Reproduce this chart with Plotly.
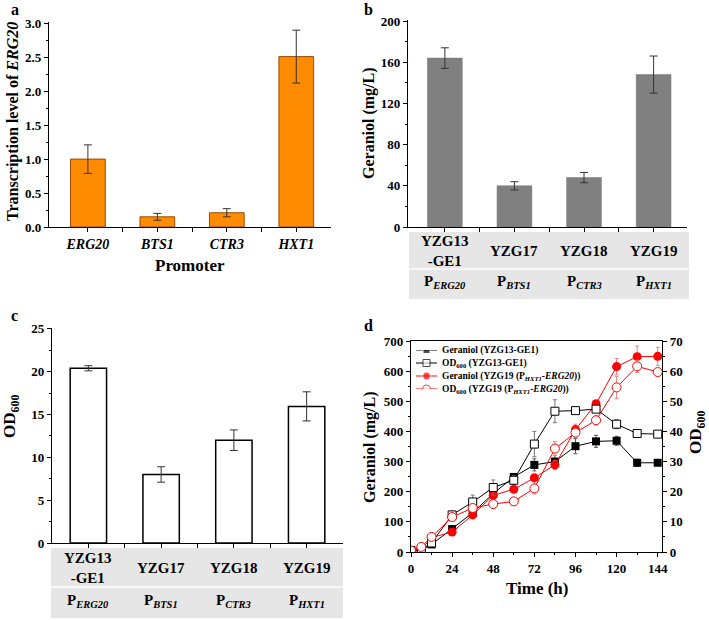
import plotly.graph_objects as go

# panel a - transcription level
promoters = ['ERG20', 'BTS1', 'CTR3', 'HXT1']
trans_level = [1.0, 0.15, 0.21, 2.51]
trans_err = [0.21, 0.05, 0.06, 0.39]

# panel b / c - strains
strains = ['YZG13<br>-GE1', 'YZG17', 'YZG18', 'YZG19']
strain_prom = ['P<sub><i>ERG20</i></sub>', 'P<sub><i>BTS1</i></sub>',
               'P<sub><i>CTR3</i></sub>', 'P<sub><i>HXT1</i></sub>']
geraniol = [164, 40, 48, 148]
geraniol_err = [10, 4, 5, 18]
od600 = [20.4, 8.0, 12.0, 15.95]
od600_err = [0.3, 0.9, 1.2, 1.7]

# panel d - time course
time = [0, 6, 12, 24, 36, 48, 60, 72, 84, 96, 108, 120, 132, 144]
ger13 = [3, 5, 25, 76, 130, 194, 249, 289, 300, 351, 367, 369, 296, 296]
ger13_err = [1, 2, 4, 8, 10, 10, 10, 20, 20, 25, 20, 15, 12, 5]
od13 = [0.5, 0.8, 3.0, 12.3, 16.6, 21.4, 23.8, 35.8, 46.7, 46.9, 47.4, 42.4, 39.3, 39.1]
od13_err = [0.2, 0.3, 0.5, 1.3, 2.3, 2.5, 1.5, 4.2, 3.8, 0.6, 0.8, 1.5, 1.2, 0.5]
ger19 = [3, 8, 48, 66, 123, 188, 208, 246, 289, 406, 492, 615, 648, 649]
ger19_err = [1, 2, 3, 6, 8, 10, 10, 10, 15, 18, 10, 27, 35, 30]
od19 = [0.5, 1.7, 5.0, 11.6, 14.6, 15.9, 16.8, 21.1, 34.3, 39.6, 43.7, 54.6, 61.6, 59.7]
od19_err = [0.2, 0.3, 0.4, 1.0, 1.0, 0.8, 0.8, 1.8, 2.3, 1.5, 1.5, 3.7, 2.0, 0.8]

legend_names = ['Geraniol (YZG13-GE1)',
                'OD<sub>600</sub> (YZG13-GE1)',
                'Geraniol (YZG19 (P<sub><i>HXT1</i></sub>-<i>ERG20</i>))',
                'OD<sub>600</sub> (YZG19 (P<sub><i>HXT1</i></sub>-<i>ERG20</i>))']

W, H = 709, 620
FONT = 'Liberation Serif, Times New Roman, serif'
pos = list(range(len(promoters)))


def px(v):
    return v / W


def py(v):
    return 1 - v / H


fig = go.Figure()

fig.add_trace(go.Bar(x=pos, y=trans_level, width=0.5, xaxis='x', yaxis='y',
                     marker=dict(color='#FF8C00', line=dict(color='#9C4A00', width=1)),
                     error_y=dict(type='data', array=trans_err, color='#333333', thickness=1, width=4),
                     showlegend=False))
fig.add_trace(go.Bar(x=pos, y=geraniol, width=0.5, xaxis='x2', yaxis='y2',
                     marker=dict(color='#808080', line=dict(color='#707070', width=0.5)),
                     error_y=dict(type='data', array=geraniol_err, color='#333333', thickness=1, width=4),
                     showlegend=False))
fig.add_trace(go.Bar(x=pos, y=od600, width=0.5, xaxis='x3', yaxis='y3',
                     marker=dict(color='white', line=dict(color='black', width=1.5)),
                     error_y=dict(type='data', array=od600_err, color='#333333', thickness=1, width=4),
                     showlegend=False))

red = '#FF0000'
styles = [
    dict(line=dict(color='black', width=1), marker=dict(symbol='square', size=8, color='black')),
    dict(line=dict(color='black', width=1),
         marker=dict(symbol='square', size=8, color='white', line=dict(color='black', width=1))),
    dict(line=dict(color=red, width=1), marker=dict(symbol='circle', size=9, color=red)),
    dict(line=dict(color=red, width=1),
         marker=dict(symbol='circle', size=9, color='white', line=dict(color=red, width=1))),
]
series = [(ger13, ger13_err, 'y4', '#555555'), (od13, od13_err, 'y5', '#777777'),
          (ger19, ger19_err, 'y4', '#F08080'), (od19, od19_err, 'y5', '#F08080')]
for (vals, errs, yax, ecol), st, name in zip(series, styles, legend_names):
    fig.add_trace(go.Scatter(x=time, y=vals, xaxis='x4', yaxis=yax, mode='lines+markers',
                             name=name, showlegend=False, **st,
                             error_y=dict(type='data', array=errs, color=ecol, thickness=1, width=2)))

# legend for panel d, drawn on a hidden helper axis
leg_rows = [3, 2, 1, 0]
for row, st in zip(leg_rows, styles):
    fig.add_trace(go.Scatter(x=[0, 0.5, 1], y=[row] * 3, xaxis='x5', yaxis='y6',
                             mode='lines+markers', showlegend=False, hoverinfo='skip',
                             line=st['line'],
                             marker=dict(st['marker'], size=[0, st['marker']['size'] - 1, 0])))

axis_common = dict(showline=True, linecolor='black', linewidth=1.2, ticks='outside',
                   tickcolor='black', ticklen=4, showgrid=False, zeroline=False, automargin=False,
                   tickfont=dict(size=13, family=FONT, color='black', weight='bold'))
cat_ticks = [0, 0.5, 1, 1.5, 2, 2.5, 3]
cat_text = []
for p in promoters:
    cat_text += ['<i>%s</i>' % p, '']

fig.update_layout(
    width=W, height=H, margin=dict(l=0, r=0, t=0, b=0),
    paper_bgcolor='white', plot_bgcolor='white',
    font=dict(family=FONT, color='black', weight='bold'),
    showlegend=False,
    xaxis=dict(axis_common, domain=[px(49), px(331)], range=[-0.56, 3.5], anchor='y',
               tickvals=cat_ticks, ticktext=cat_text[:7],
               tickfont=dict(size=14, family=FONT, color='black', weight='bold')),
    yaxis=dict(axis_common, domain=[py(227), py(22)], range=[0, 3.02], anchor='x',
               dtick=0.5, tickformat='.1f',
               minor=dict(ticks='outside', ticklen=2, dtick=0.25, tickcolor='black')),
    xaxis2=dict(axis_common, domain=[px(408), px(687)], range=[-0.53, 3.48], anchor='y2',
                tickvals=cat_ticks, showticklabels=False),
    yaxis2=dict(axis_common, domain=[py(227), py(20)], range=[0, 201], anchor='x2',
                dtick=40, minor=dict(ticks='outside', ticklen=2, dtick=20, tickcolor='black')),
    xaxis3=dict(axis_common, domain=[px(52), px(343)], range=[-0.5, 3.5], anchor='y3',
                tickvals=cat_ticks, showticklabels=False),
    yaxis3=dict(axis_common, domain=[py(543), py(328)], range=[0, 25.1], anchor='x3',
                dtick=5, minor=dict(ticks='outside', ticklen=2, dtick=2.5, tickcolor='black')),
    xaxis4=dict(axis_common, domain=[px(411), px(662)], range=[0, 146.5], anchor='y4',
                dtick=24, mirror=True,
                minor=dict(ticks='outside', ticklen=2, dtick=12, tickcolor='black')),
    yaxis4=dict(axis_common, domain=[py(552), py(341)], range=[0, 700], anchor='x4',
                dtick=100, minor=dict(ticks='outside', ticklen=2, dtick=50, tickcolor='black')),
    yaxis5=dict(axis_common, domain=[py(552), py(341)], range=[0, 70], anchor='x4',
                overlaying='y4', side='right', dtick=10,
                minor=dict(ticks='outside', ticklen=2, dtick=5, tickcolor='black')),
    xaxis5=dict(domain=[px(416), px(437)], range=[0, 1], visible=False, anchor='y6'),
    yaxis6=dict(domain=[py(389), py(350)], range=[0, 3], visible=False, anchor='x5'),
)

ann = []


def text(x, y, s, size, angle=0, xref='paper', anchor='center'):
    ann.append(dict(x=x, y=y, xref=xref, yref='paper', text=s, showarrow=False,
                    textangle=angle, xanchor=anchor, yanchor='middle',
                    font=dict(size=size, family=FONT, color='black', weight='bold')))


# panel letters
text(px(15), py(9), 'a', 16)
text(px(368), py(9), 'b', 16)
text(px(15), py(315), 'c', 16)
text(px(368), py(325), 'd', 16)

# axis titles
text(px(13), py(122), 'Transcription level of <i>ERG20</i>', 16, -90)
text(px(190), py(266), 'Promoter', 17)
text(px(369), py(123), 'Geraniol (mg/L)', 16, -90)
text(px(11), py(417), 'OD<sub>600</sub>', 17, -90)
text(px(370), py(447), 'Geraniol (mg/L)', 16, -90)
text(px(697), py(433), 'OD<sub>600</sub>', 17, -90)
text(px(537), py(588), 'Time (h)', 17)

# legend labels for panel d
for i, name in enumerate(legend_names):
    text(px(440), py(350 + 13 * i), name, 9.5, anchor='left')

# tables under b and c
shapes = []
tables = [('x2', 409, 689, 232, 269, 299), ('x3', 51, 343, 548, 587, 618)]
for xr, x0, x1, y0, ymid, y1 in tables:
    shapes.append(dict(type='rect', xref='paper', yref='paper', x0=px(x0), x1=px(x1),
                       y0=py(y1), y1=py(y0), fillcolor='#E6E6E6', line=dict(width=0), layer='below'))
    shapes.append(dict(type='line', xref='paper', yref='paper', x0=px(x0), x1=px(x1),
                       y0=py(ymid), y1=py(ymid), line=dict(color='white', width=1.5)))
    for i in pos:
        text(i, py((y0 + ymid) / 2), strains[i], 15, xref=xr)
        text(i, py((ymid + y1) / 2 - 2), strain_prom[i], 15, xref=xr)

fig.update_layout(annotations=ann, shapes=shapes)

# the page body has a default 8px margin; drop it so the figure fills the window
fig.write_html('out.html', config={'displayModeBar': False},
               post_script="document.body.style.margin='0';document.body.style.overflow='hidden';")
